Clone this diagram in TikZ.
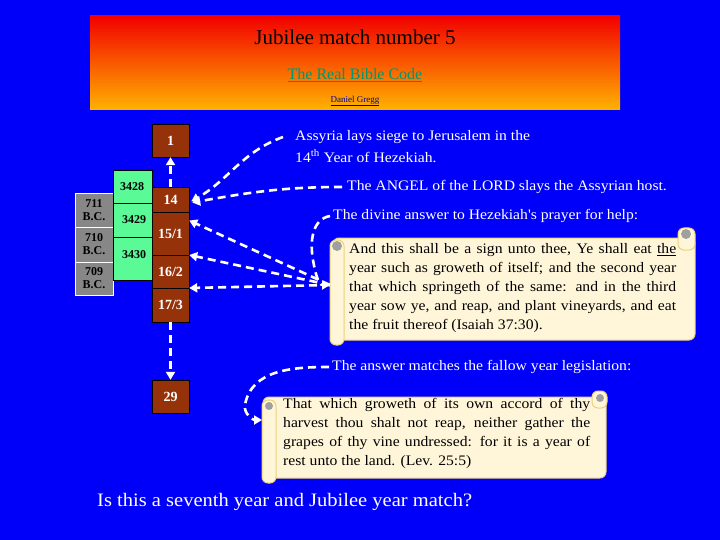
\documentclass[tikz,border=0pt]{standalone}
\usepackage{fontspec}
\setmainfont{Liberation Serif}
\newfontfamily\wide[FakeStretch=1.08]{Liberation Serif}
\usetikzlibrary{arrows.meta}
\definecolor{bg}{RGB}{0,0,250}
\definecolor{brn}{RGB}{150,50,10}
\definecolor{grn}{RGB}{90,250,150}
\definecolor{gry}{RGB}{135,135,135}
\definecolor{cream}{RGB}{255,246,218}
\definecolor{scrolledge}{RGB}{235,210,120}
\definecolor{linkg}{RGB}{0,150,110}
\newcommand{\sline}[2]{\makebox[#1][s]{#2}\\}
\tikzset{
 yr/.style={draw=black,fill=brn,text=white,font=\fontsize{14}{14}\selectfont\bfseries,minimum width=37pt,inner sep=0pt},
 gnum/.style={text=black,font=\fontsize{12}{12}\selectfont\bfseries,inner sep=0pt},
 bc/.style={text=black,font=\fontsize{12}{13}\selectfont\bfseries,align=center,inner sep=0pt},
 wt/.style={text=white,font=\wide\fontsize{14.5}{18.5}\selectfont,anchor=west,inner sep=0pt},
 dar/.style={draw=white,line width=2.6pt,dash pattern=on 8pt off 5pt,-{Triangle[length=8pt,width=9pt]}},
 scr/.style={fill=cream,draw=scrolledge,line width=1pt,rounded corners=6pt},
 stext/.style={text=black,font=\wide\fontsize{14.5}{19}\selectfont,align=left,anchor=north west,inner sep=0pt}
}
\begin{document}
\begin{tikzpicture}[x=1pt,y=-1pt]
\useasboundingbox (0,0) rectangle (720,540);
\fill[bg] (0,0) rectangle (720,540);
% title
\shade[top color=red!95!black,bottom color=orange!60!yellow] (90,16) rectangle (620,110);
\node[font=\fontsize{21}{21}\selectfont] (title) at (355,37) {Jubilee match number 5};
\node[font=\fontsize{16}{16}\selectfont,text=linkg] (link) at (355,75) {\underline{The Real Bible Code}};
\node[font=\fontsize{9}{9}\selectfont,text=blue!60!black] (auth) at (355,101) {\underline{Daniel Gregg}};
% grey and green
\draw[white,fill=gry] (75,193) rectangle (113,295);
\draw[white] (75,227) -- (113,227) (75,262) -- (113,262);
\node[bc] (b711) at (94,210) {711\\B.C.};
\node[bc] (b710) at (94,244) {710\\B.C.};
\node[bc] (b709) at (94,278) {709\\B.C.};
\draw[black,fill=grn] (113,170) rectangle (152,280);
\draw (113,203) -- (152,203) (113,237) -- (152,237);
\node[gnum] (g1) at (132,187) {3428};
\node[gnum] (g2) at (134,220) {3429};
\node[gnum] (g3) at (134,255) {3430};
% brown
\node[yr,minimum height=33pt] (n1) at (170.5,140.5) {1};
\node[yr,minimum height=25pt] (n14) at (170.5,199.5) {14};
\node[yr,minimum height=43pt] (n15) at (170.5,233.5) {15/1};
\node[yr,minimum height=33pt] (n16) at (170.5,271.5) {16/2};
\node[yr,minimum height=34pt] (n17) at (170.5,305) {17/3};
\node[yr,minimum height=33pt] (n29) at (170.5,396.5) {29};
% texts
\node[wt] (t1) at (295,137) {Assyria lays siege to Jerusalem in the};
\node[wt] (t2) at (295,156) {14\textsuperscript{th} Year of Hezekiah.};
\node[wt] (t3) at (347,187) {The ANGEL of the LORD slays the Assyrian host.};
\node[wt] (t4) at (333,216) {The divine answer to Hezekiah's prayer for help:};
\node[wt] (t5) at (332,367) {The answer matches the fallow year legislation:};
\node[wt,font=\wide\fontsize{19}{19}\selectfont] (t6) at (97,502) {Is this a seventh year and Jubilee year match?};
% scroll 1
\draw[scr] (333,238) rectangle (695,340);
\draw[scr] (678,228) rectangle (695,250);
\fill[gry!80] (686,234) circle (5);
\draw[scr] (330,240) rectangle (344,345);
\fill[gry!80] (337,246) circle (5);
\node[stext] (s1) at (349,243) {\sline{327pt}{And this shall be a sign unto thee, Ye shall eat \underline{the}}\sline{327pt}{year such as groweth of itself; and the second year}\sline{327pt}{that which springeth of the same: and in the third}\sline{327pt}{year sow ye, and reap, and plant vineyards, and eat}the fruit thereof (Isaiah 37:30).};
\coordinate (s1l) at (330,285);
% scroll 2
\draw[scr] (263,397) rectangle (606,478);
\draw[scr] (592,391) rectangle (607,408);
\fill[gry!80] (600,398) circle (4);
\draw[scr] (262,400) rectangle (276,483);
\fill[gry!80] (269,406) circle (4);
\node[stext] (s2) at (283,398) {\sline{307pt}{That which groweth of its own accord of thy}\sline{307pt}{harvest thou shalt not reap, neither gather the}\sline{307pt}{grapes of thy vine undressed: for it is a year of}rest unto the land. (Lev. 25:5)};
\coordinate (s2l) at (262,420);
% arrows
\draw[dar] (n14.north) -- (n1.south);
\draw[dar] (n17.south) -- (n29.north);
\draw[dar] (t1.west) ++(-12,0) to[out=200,in=30] ([xshift=2pt,yshift=-2pt]n14.east);
\draw[dar] (t3.west) ++(-5,0) to[out=180,in=10] ([xshift=3pt,yshift=-3pt]n14.east);
\draw[dar] (s1l) -- ([yshift=13pt]n15.east);
\draw[dar] (s1l) -- ([yshift=-21.5pt]n15.east);
\draw[dar] (s1l) -- ([yshift=-16.5pt]n16.east);
\draw[dar] (t4.west) ++(-3,0) to[out=190,in=100] (313,260) to[out=-80,in=180] (s1l);
\draw[dar] (t5.west) ++(-3,0) to[out=180,in=80] (245,405) to[out=-100,in=180] (s2l);
\end{tikzpicture}
\end{document}
